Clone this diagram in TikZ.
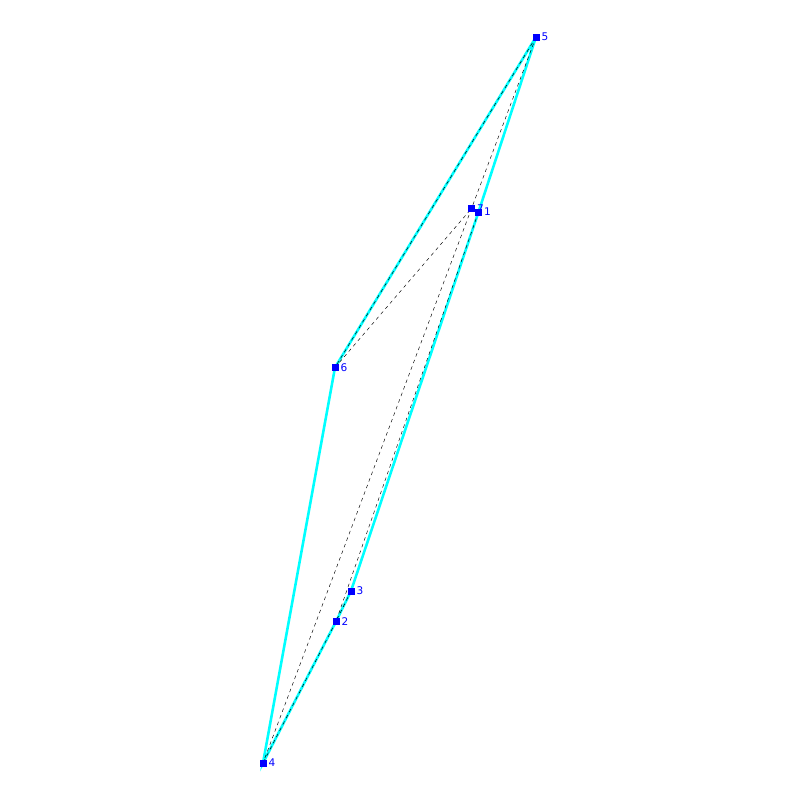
\documentclass[tikz,border=0pt]{standalone}
\usepackage{fontspec}
\setsansfont{DejaVu Sans}
\usetikzlibrary{positioning, backgrounds}
\definecolor{PtBlue}{HTML}{0000FF}
\definecolor{EdgeCyan}{HTML}{00FFFF}
\tikzset{
    pt/.style={
        draw=none,
        fill=PtBlue,
        minimum size=0.21cm,
        inner sep=0pt
    },
    ptlabel/.style={
        text=PtBlue,
        font=\sffamily\fontsize{9}{10}\selectfont,
        inner sep=0pt
    },
    hull/.style={
        EdgeCyan,
        line width=2.2pt
    },
    tri/.style={
        black,
        line width=0.4pt,
        dash pattern=on 3pt off 3pt
    }
}

\begin{document}
\begin{tikzpicture}[x=0.03cm, y=-0.03cm]
        \useasboundingbox (0,0) rectangle (800,800);

        % Points
        \node[pt] (p5) at (536,37) {};
        \node[ptlabel, right=0.05cm of p5] (l5) {5};
        \node[pt] (p7) at (471.5,208.5) {};
        \node[ptlabel, right=0.05cm of p7] (l7) {7};
        \node[pt] (p1) at (478.5,212) {};
        \node[ptlabel, right=0.05cm of p1] (l1) {1};
        \node[pt] (p6) at (335,367.5) {};
        \node[ptlabel, right=0.05cm of p6] (l6) {6};
        \node[pt] (p3) at (351,591) {};
        \node[ptlabel, right=0.05cm of p3] (l3) {3};
        \node[pt] (p2) at (336,621.5) {};
        \node[ptlabel, right=0.05cm of p2] (l2) {2};
        \node[pt] (p4) at (263,763) {};
        \node[ptlabel, right=0.05cm of p4] (l4) {4};

        \begin{scope}[on background layer]
            % Boundary
            \draw[hull] (p5.center) -- (p1.center) -- (p3.center) -- (p2.center) -- (p4.center) -- (p6.center) -- (p5.center);

            % Triangulation
            \draw[tri] (p5.center) -- (p6.center);
            \draw[tri] (p5.center) -- (p7.center);
            \draw[tri] (p6.center) -- (p7.center);
            \draw[tri] (p7.center) -- (p1.center);
            \draw[tri] (p7.center) -- (p4.center);
            \draw[tri] (p1.center) -- (p2.center);
            \draw[tri] (p3.center) -- (p2.center);
            \draw[tri] (p2.center) -- (p4.center);
        \end{scope}
    \end{tikzpicture}
\end{document}
